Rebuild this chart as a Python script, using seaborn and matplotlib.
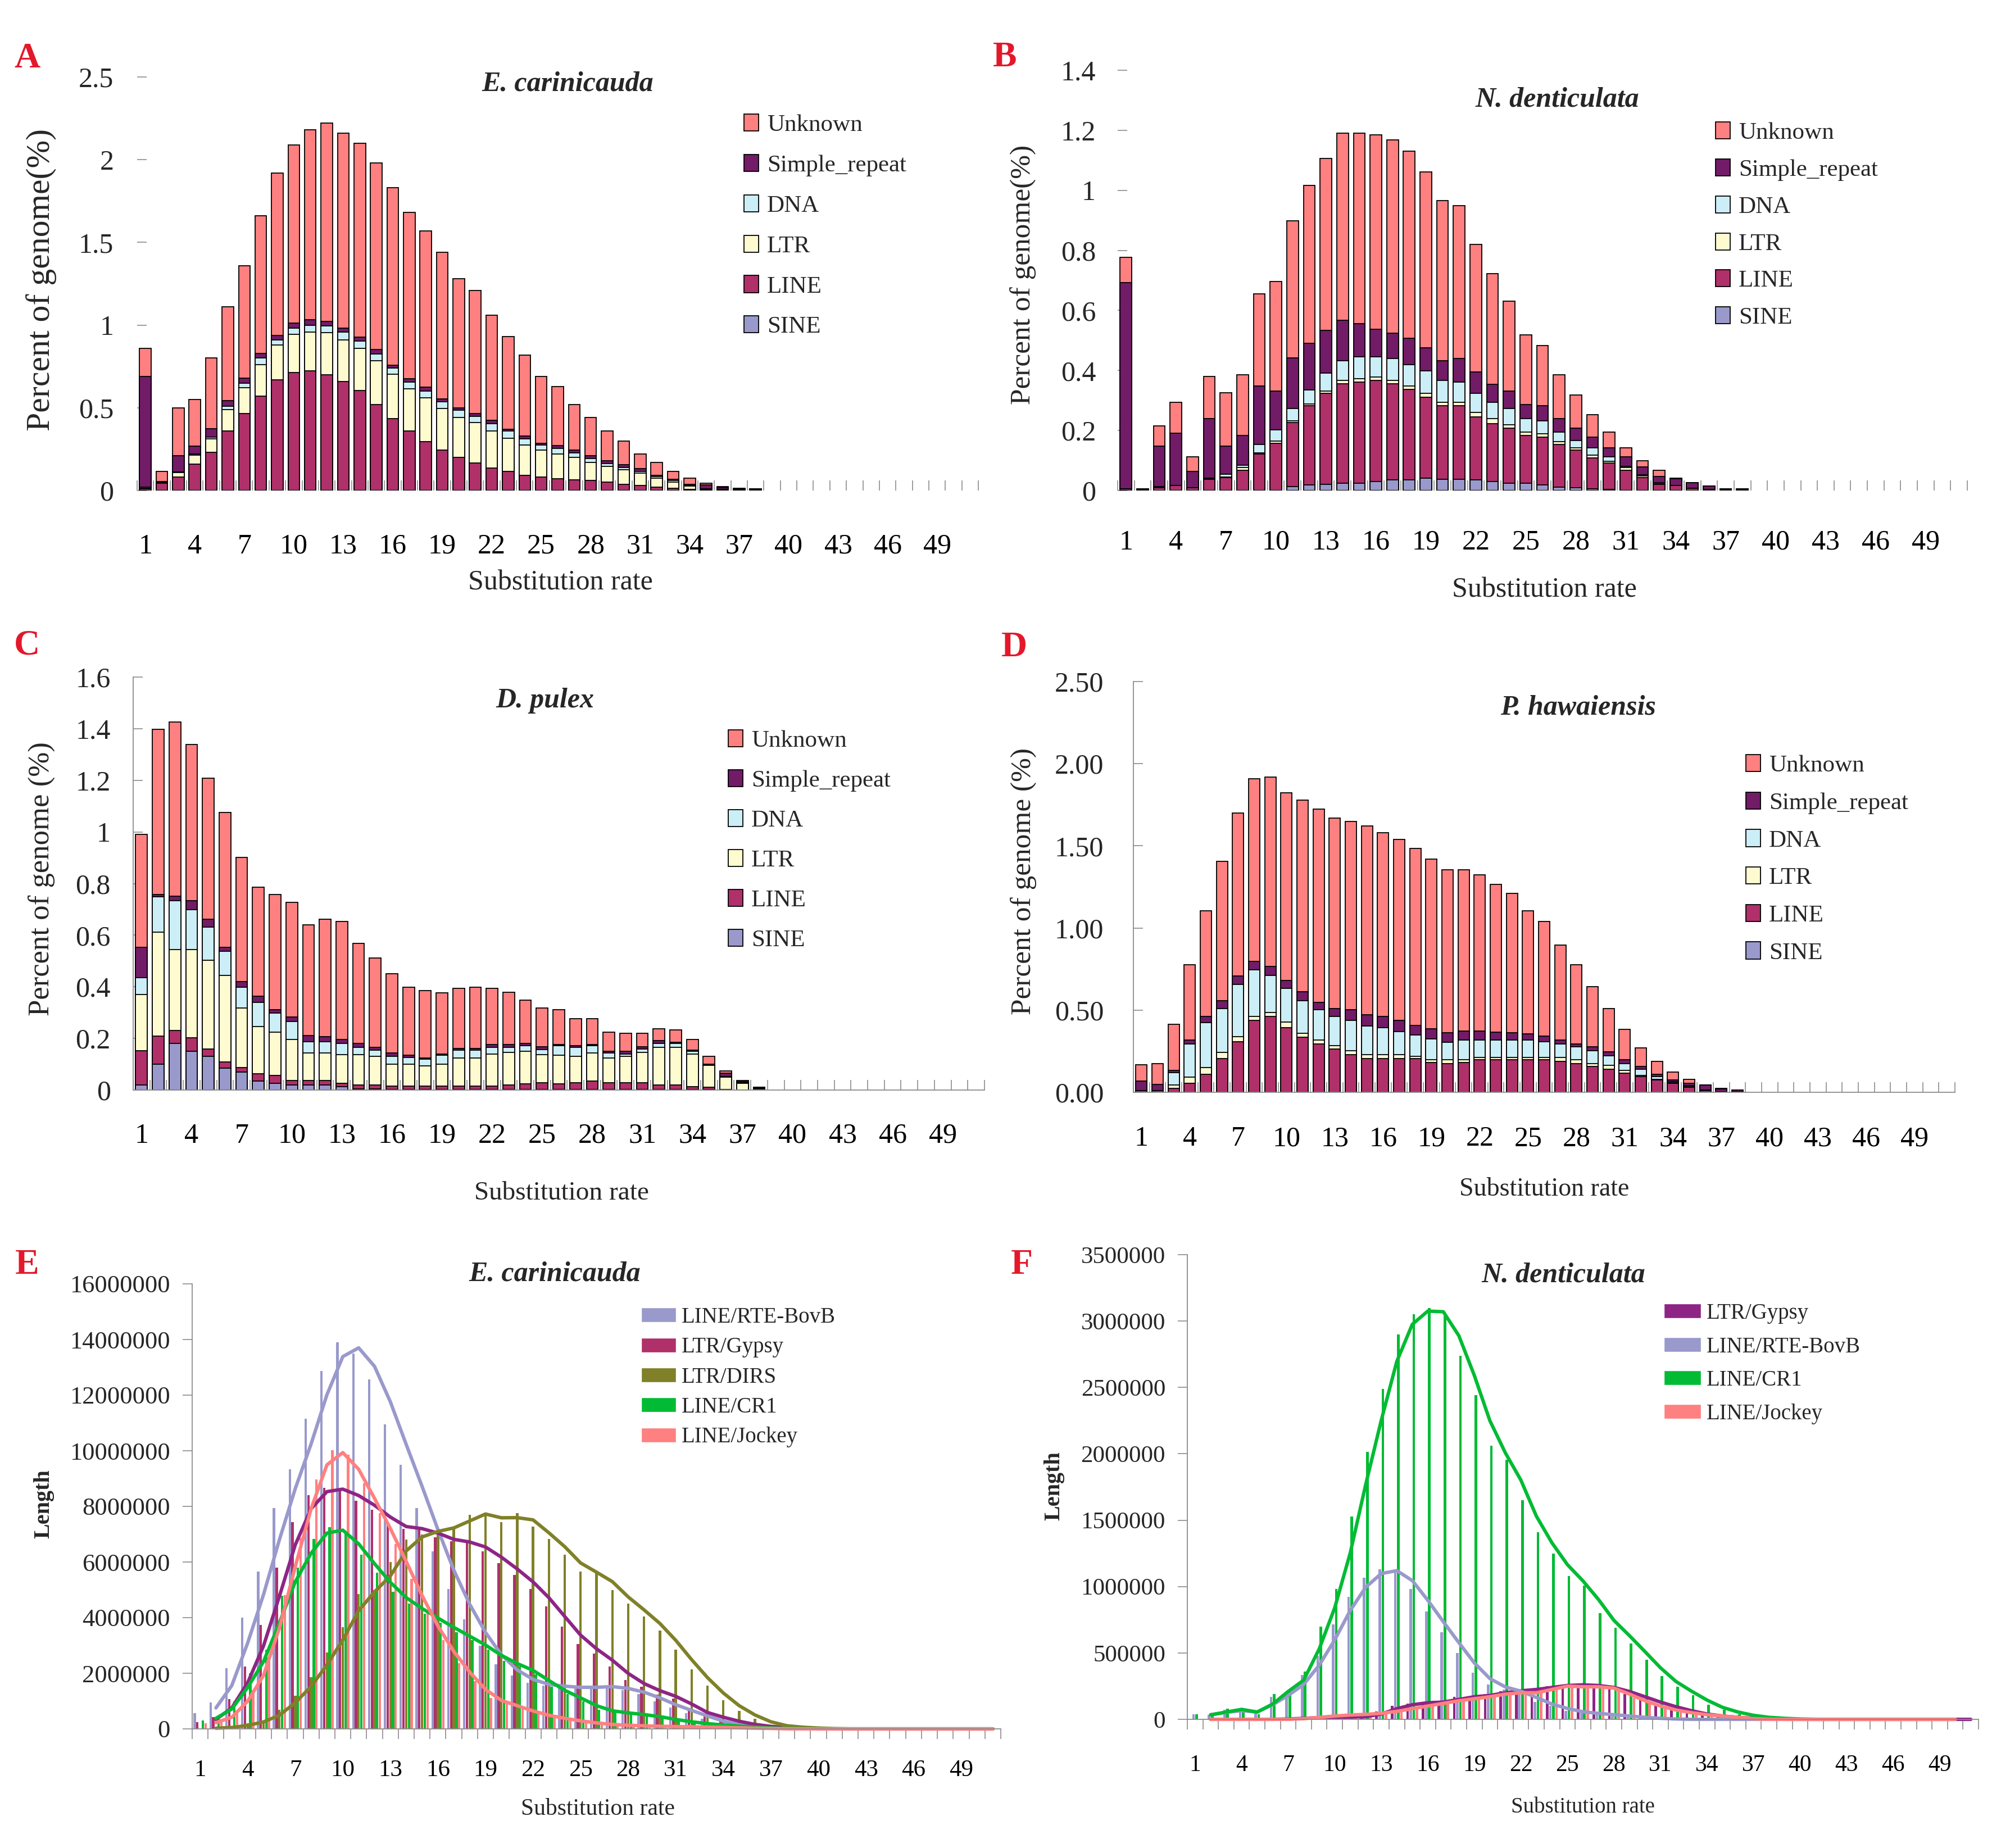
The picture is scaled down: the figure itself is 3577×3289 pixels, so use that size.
import numpy as np
import pandas as pd
import matplotlib.pyplot as plt
import seaborn as sns
from matplotlib.patches import Patch

sns.set_theme(style='white')
plt.rcParams['font.family'] = ['Liberation Serif', 'DejaVu Serif']

W, H = 3577, 3289

rates = [str(i) for i in range(1, 52)]
xtick_labels = ['1', '4', '7', '10', '13', '16', '19', '22', '25', '28', '31', '34', '37', '40', '43', '46', '49']

classes = ['SINE', 'LINE', 'LTR', 'DNA', 'Simple_repeat', 'Unknown']
class_colours = ['#9999CC', '#B0306A', '#FFFBD0', '#CCEEF6', '#721B67', '#FF8080']

# ---- A: E. carinicauda, percent of genome (rates 1-38) ----
a_sine = [0] * 38
a_line = [0.01, 0.043, 0.083, 0.16, 0.23, 0.36, 0.464, 0.571, 0.669, 0.712, 0.724, 0.70, 0.66, 0.605, 0.52, 0.436, 0.36, 0.295, 0.243,
          0.20, 0.167, 0.136, 0.114, 0.093, 0.081, 0.071, 0.064, 0.062, 0.052, 0.038, 0.029, 0.019, 0.014, 0.007, 0.003, 0.002, 0.001, 0.001]
a_ltr = [0.005, 0.003, 0.024, 0.054, 0.084, 0.128, 0.157, 0.189, 0.21, 0.231, 0.233, 0.255, 0.252, 0.255, 0.266, 0.266, 0.254, 0.267, 0.252,
         0.243, 0.245, 0.224, 0.203, 0.183, 0.162, 0.15, 0.136, 0.107, 0.093, 0.086, 0.076, 0.055, 0.036, 0.019, 0.005, 0.004, 0.002, 0.002]
a_dna = [0.005, 0.003, 0.005, 0.007, 0.01, 0.022, 0.027, 0.04, 0.033, 0.038, 0.041, 0.04, 0.045, 0.042, 0.04, 0.038, 0.041, 0.04, 0.043,
         0.043, 0.038, 0.045, 0.043, 0.036, 0.031, 0.034, 0.026, 0.024, 0.019, 0.014, 0.012, 0.012, 0.01, 0.005, 0.002, 0.002, 0.001, 0.001]
a_simple = [0.67, 0.005, 0.098, 0.046, 0.05, 0.033, 0.033, 0.03, 0.024, 0.031, 0.035, 0.026, 0.026, 0.024, 0.026, 0.017, 0.021, 0.024, 0.014,
            0.014, 0.017, 0.019, 0.011, 0.017, 0.012, 0.016, 0.017, 0.017, 0.017, 0.017, 0.014, 0.007, 0.007, 0.007, 0.025, 0.01, 0.006, 0.005]
a_unknown = [0.17, 0.063, 0.29, 0.283, 0.426, 0.567, 0.679, 0.83, 0.984, 1.078, 1.147, 1.199, 1.177, 1.174, 1.128, 1.073, 1.004, 0.944, 0.888,
             0.78, 0.743, 0.636, 0.559, 0.491, 0.404, 0.359, 0.277, 0.23, 0.179, 0.145, 0.089, 0.077, 0.05, 0.038, 0.008, 0.006, 0.002, 0.001]

# ---- B: N. denticulata ----
b_sine = [0, 0, 0, 0, 0, 0, 0, 0, 0, 0, 0.013, 0.018, 0.02, 0.025, 0.025, 0.03, 0.035, 0.035, 0.042,
          0.038, 0.038, 0.036, 0.03, 0.025, 0.025, 0.018, 0.012, 0.01, 0.005, 0.003, 0, 0, 0, 0, 0, 0, 0, 0]
b_line = [0.005, 0.001, 0.01, 0.016, 0.01, 0.037, 0.043, 0.068, 0.122, 0.157, 0.213, 0.264, 0.304, 0.331, 0.336, 0.336, 0.321, 0.302, 0.269,
          0.244, 0.244, 0.209, 0.193, 0.182, 0.159, 0.159, 0.142, 0.124, 0.104, 0.089, 0.068, 0.043, 0.02, 0.016, 0.008, 0.003, 0.001, 0.001]
b_ltr = [0, 0, 0.002, 0, 0, 0.003, 0.002, 0.008, 0.003, 0.007, 0.006, 0.007, 0.007, 0.011, 0.012, 0.012, 0.01, 0.011, 0.013,
         0.011, 0.011, 0.016, 0.016, 0.012, 0.01, 0.012, 0.009, 0.009, 0.009, 0.006, 0.008, 0.005, 0.003, 0, 0, 0, 0, 0]
b_dna = [0, 0, 0.002, 0, 0, 0.002, 0.01, 0.009, 0.029, 0.038, 0.042, 0.046, 0.06, 0.066, 0.072, 0.067, 0.074, 0.072, 0.074,
         0.073, 0.068, 0.063, 0.054, 0.055, 0.045, 0.043, 0.031, 0.024, 0.024, 0.014, 0.005, 0.005, 0.003, 0, 0, 0, 0, 0]
b_simple = [0.688, 0.004, 0.133, 0.174, 0.053, 0.197, 0.092, 0.099, 0.194, 0.129, 0.167, 0.155, 0.143, 0.135, 0.11, 0.093, 0.085, 0.088, 0.078,
            0.067, 0.079, 0.07, 0.061, 0.057, 0.048, 0.05, 0.045, 0.04, 0.035, 0.03, 0.031, 0.026, 0.02, 0.023, 0.018, 0.012, 0.004, 0.004]
b_unknown = [0.084, 0, 0.068, 0.103, 0.049, 0.141, 0.178, 0.201, 0.307, 0.366, 0.457, 0.526, 0.572, 0.622, 0.635, 0.646, 0.642, 0.623, 0.586,
             0.532, 0.508, 0.425, 0.368, 0.299, 0.231, 0.20, 0.146, 0.112, 0.075, 0.052, 0.03, 0.021, 0.021, 0.003, 0, 0, 0, 0]

# ---- C: D. pulex ----
c_sine = [0.02, 0.10, 0.18, 0.151, 0.13, 0.085, 0.069, 0.035, 0.027, 0.02, 0.02, 0.02, 0.012, 0.005, 0.005, 0.003, 0.003, 0.003, 0.003,
          0.003, 0.003, 0.003, 0.003, 0.003, 0.003, 0.003, 0.003, 0.003, 0.003, 0.003, 0.003, 0.003, 0.003, 0.003, 0.002, 0.001, 0, 0]
c_line = [0.133, 0.109, 0.051, 0.052, 0.03, 0.023, 0.018, 0.029, 0.029, 0.017, 0.017, 0.017, 0.015, 0.015, 0.015, 0.012, 0.012, 0.012, 0.012,
          0.012, 0.012, 0.012, 0.017, 0.022, 0.025, 0.022, 0.025, 0.032, 0.025, 0.025, 0.025, 0.017, 0.017, 0.009, 0.008, 0.002, 0.001, 0.001]
c_ltr = [0.216, 0.402, 0.313, 0.341, 0.342, 0.335, 0.231, 0.183, 0.168, 0.158, 0.106, 0.106, 0.11, 0.117, 0.11, 0.085, 0.085, 0.078, 0.085,
         0.109, 0.109, 0.125, 0.125, 0.125, 0.109, 0.109, 0.102, 0.108, 0.096, 0.102, 0.117, 0.146, 0.146, 0.127, 0.085, 0.046, 0.026, 0.004]
c_dna = [0.066, 0.137, 0.189, 0.154, 0.129, 0.094, 0.08, 0.093, 0.074, 0.071, 0.045, 0.045, 0.043, 0.028, 0.024, 0.031, 0.027, 0.026, 0.034,
         0.03, 0.03, 0.025, 0.02, 0.021, 0.02, 0.037, 0.035, 0.028, 0.019, 0.01, 0.015, 0.014, 0.014, 0.011, 0.002, 0.003, 0.001, 0.001]
c_simple = [0.119, 0.009, 0.017, 0.036, 0.03, 0.017, 0.023, 0.023, 0.013, 0.018, 0.023, 0.018, 0.015, 0.015, 0.012, 0.012, 0.007, 0.006, 0.005,
            0.008, 0.008, 0.011, 0.012, 0.009, 0.011, 0.006, 0.006, 0.006, 0.007, 0.01, 0.008, 0.011, 0.005, 0.004, 0.003, 0.014, 0.004, 0.004]
c_unknown = [0.436, 0.64, 0.676, 0.605, 0.547, 0.522, 0.481, 0.423, 0.446, 0.444, 0.429, 0.455, 0.458, 0.388, 0.345, 0.307, 0.264, 0.261, 0.237,
             0.232, 0.236, 0.218, 0.202, 0.168, 0.15, 0.134, 0.105, 0.099, 0.074, 0.07, 0.052, 0.047, 0.047, 0.041, 0.031, 0.007, 0.005, 0]

# ---- D: P. hawaiensis ----
d_sine = [0] * 38
d_line = [0.01, 0.01, 0.024, 0.055, 0.108, 0.204, 0.307, 0.439, 0.461, 0.393, 0.336, 0.295, 0.264, 0.23, 0.204, 0.204, 0.204, 0.204, 0.182,
          0.175, 0.182, 0.199, 0.199, 0.199, 0.199, 0.199, 0.187, 0.175, 0.158, 0.139, 0.115, 0.096, 0.074, 0.055, 0.031, 0.01, 0.005, 0.002]
d_ltr = [0, 0, 0.019, 0.036, 0.043, 0.038, 0.031, 0.024, 0.024, 0.034, 0.024, 0.024, 0.019, 0.022, 0.024, 0.024, 0.024, 0.014, 0.017,
         0.024, 0.017, 0.012, 0.012, 0.012, 0.012, 0.012, 0.024, 0.024, 0.017, 0.024, 0.017, 0.007, 0.006, 0.003, 0.003, 0, 0, 0]
d_dna = [0, 0, 0.077, 0.204, 0.274, 0.269, 0.317, 0.281, 0.225, 0.206, 0.199, 0.185, 0.178, 0.185, 0.177, 0.165, 0.141, 0.132, 0.127,
         0.106, 0.12, 0.108, 0.108, 0.108, 0.108, 0.096, 0.084, 0.077, 0.079, 0.06, 0.043, 0.036, 0.016, 0.007, 0.006, 0.002, 0, 0]
d_simple = [0.057, 0.038, 0.014, 0.024, 0.038, 0.048, 0.053, 0.053, 0.055, 0.046, 0.053, 0.043, 0.05, 0.067, 0.068, 0.07, 0.07, 0.058, 0.06,
            0.057, 0.053, 0.053, 0.048, 0.043, 0.036, 0.036, 0.024, 0.019, 0.022, 0.024, 0.024, 0.017, 0.014, 0.009, 0.015, 0.031, 0.015, 0.013]
d_unknown = [0.099, 0.127, 0.281, 0.456, 0.641, 0.847, 0.993, 1.113, 1.154, 1.144, 1.166, 1.178, 1.159, 1.144, 1.147, 1.118, 1.099, 1.077, 1.034,
             0.994, 0.984, 0.95, 0.90, 0.85, 0.749, 0.696, 0.578, 0.48, 0.367, 0.264, 0.185, 0.115, 0.077, 0.048, 0.024, 0.002, 0.005, 0]

# ---- E: E. carinicauda, length (millions of bp) per rate 1-51 ----
e_names = ['LINE/RTE-BovB', 'LTR/Gypsy', 'LTR/DIRS', 'LINE/CR1', 'LINE/Jockey']
e_bovb = [0.57, 0.94, 2.18, 4.0, 5.66, 7.94, 9.33, 11.16, 12.87, 13.9, 13.5, 12.57, 10.95, 9.5, 7.94, 6.39, 5.03, 3.94, 3.0, 2.33,
          1.91, 1.65, 1.55, 1.52, 1.47, 1.52, 1.52, 1.39, 1.25, 0.98, 0.76, 0.57, 0.36, 0.2, 0.1, 0.05, 0.02, 0.01, 0, 0,
          0, 0, 0, 0, 0, 0, 0, 0, 0, 0, 0]
e_gypsy = [0.25, 0.43, 1.08, 2.24, 3.73, 5.8, 7.43, 8.4, 8.66, 8.58, 8.2, 7.88, 7.35, 7.2, 7.2, 6.88, 6.75, 6.69, 6.39, 5.96,
           5.54, 5.03, 4.40, 3.68, 3.06, 2.70, 2.24, 1.75, 1.51, 1.24, 1.10, 0.69, 0.49, 0.35, 0.2, 0.12, 0.06, 0.03, 0.01, 0,
           0, 0, 0, 0, 0, 0, 0, 0, 0, 0, 0]
e_dirs = [0.0, 0.05, 0.05, 0.2, 0.3, 0.68, 1.2, 1.85, 2.75, 3.65, 4.85, 5.0, 6.0, 6.8, 7.0, 7.2, 7.25, 7.7, 7.75, 7.43,
          7.76, 7.27, 6.83, 6.27, 5.66, 5.61, 4.98, 4.51, 4.05, 3.53, 2.84, 2.14, 1.55, 1.03, 0.64, 0.36, 0.15, 0.08, 0.04, 0.02,
          0, 0, 0, 0, 0, 0, 0, 0, 0, 0, 0]
e_cr1 = [0.31, 0.45, 0.98, 2.0, 2.84, 4.78, 5.8, 6.83, 7.25, 7.04, 6.27, 5.61, 4.93, 4.51, 4.15, 3.82, 3.48, 3.19, 2.84, 2.45,
         2.25, 1.96, 1.52, 1.25, 0.98, 0.69, 0.61, 0.54, 0.49, 0.39, 0.29, 0.22, 0.16, 0.12, 0.08, 0.05, 0.02, 0.01, 0, 0,
         0, 0, 0, 0, 0, 0, 0, 0, 0, 0, 0]
e_jockey = [0.2, 0.25, 0.59, 1.4, 2.45, 4.8, 6.86, 8.97, 10.02, 9.85, 8.82, 7.76, 6.65, 5.39, 4.2, 3.2, 2.37, 1.72, 1.12, 0.93,
            0.74, 0.55, 0.43, 0.33, 0.25, 0.18, 0.14, 0.12, 0.1, 0.09, 0.08, 0.07, 0.06, 0.05, 0.03, 0.02, 0.01, 0, 0, 0,
            0, 0, 0, 0, 0, 0, 0, 0, 0, 0, 0]

# ---- F: N. denticulata, length (millions of bp); only Gypsy has a value at rate 51 ----
f_names = ['LTR/Gypsy', 'LINE/RTE-BovB', 'LINE/CR1', 'LINE/Jockey']
f_gypsy = [0, 0, 0, 0, 0, 0, 0.005, 0.01, 0.015, 0.015, 0.02, 0.02, 0.06, 0.10, 0.12, 0.13, 0.13, 0.17, 0.17, 0.19,
           0.21, 0.22, 0.23, 0.25, 0.26, 0.26, 0.25, 0.23, 0.19, 0.15, 0.11, 0.08, 0.05, 0.03, 0.02, 0.01, 0.005, 0, 0, 0,
           0, 0, 0, 0, 0, 0, 0, 0, 0, 0, 0]
f_bovb = [0.036, 0.035, 0.07, 0.06, 0.05, 0.17, 0.19, 0.336, 0.48, 0.716, 0.924, 1.066, 1.13, 1.11, 0.98, 0.814, 0.656, 0.50, 0.35, 0.264,
          0.224, 0.20, 0.13, 0.10, 0.064, 0.05, 0.04, 0.03, 0.02, 0.01, 0.005, 0, 0, 0, 0, 0, 0, 0, 0, 0,
          0, 0, 0, 0, 0, 0, 0, 0, 0, 0, np.nan]
f_cr1 = [0.036, 0.03, 0.08, 0.07, 0.04, 0.19, 0.23, 0.36, 0.70, 0.98, 1.526, 2.014, 2.49, 2.90, 3.05, 3.10, 3.04, 2.74, 2.44, 2.06,
         1.954, 1.65, 1.41, 1.25, 1.08, 1.006, 0.80, 0.69, 0.57, 0.45, 0.326, 0.244, 0.18, 0.11, 0.07, 0.04, 0.02, 0.01, 0.005, 0,
         0, 0, 0, 0, 0, 0, 0, 0, 0, 0, np.nan]
f_jockey = [0, 0, 0, 0, 0, 0, 0, 0.01, 0.02, 0.03, 0.035, 0.04, 0.05, 0.07, 0.09, 0.11, 0.13, 0.15, 0.16, 0.18,
            0.20, 0.20, 0.20, 0.25, 0.25, 0.24, 0.25, 0.22, 0.16, 0.12, 0.08, 0.06, 0.04, 0.03, 0.02, 0.01, 0, 0, 0, 0,
            0, 0, 0, 0, 0, 0, 0, 0, 0, 0, np.nan]

a_yticks, a_ylabels = [0, 0.5, 1, 1.5, 2, 2.5], ['0', '0.5', '1', '1.5', '2', '2.5']
b_yticks, b_ylabels = [0, 0.2, 0.4, 0.6, 0.8, 1.0, 1.2, 1.4], ['0', '0.2', '0.4', '0.6', '0.8', '1', '1.2', '1.4']
c_yticks, c_ylabels = [0, 0.2, 0.4, 0.6, 0.8, 1.0, 1.2, 1.4, 1.6], ['0', '0.2', '0.4', '0.6', '0.8', '1', '1.2', '1.4', '1.6']
d_yticks, d_ylabels = [0, 0.5, 1.0, 1.5, 2.0, 2.5], ['0.00', '0.50', '1.00', '1.50', '2.00', '2.50']
e_yticks = [0, 2000000, 4000000, 6000000, 8000000, 10000000, 12000000, 14000000, 16000000]
f_yticks = [0, 500000, 1000000, 1500000, 2000000, 2500000, 3000000, 3500000]

red = '#E3182B'
grey = '#8c8c8c'

fig = plt.figure(figsize=(W / 100, H / 100), dpi=100)


def new_axes(l, t, r, b):
    return fig.add_axes([l / W, 1 - b / H, (r - l) / W, (b - t) / H])


def put(x, y, s, **kw):
    fig.text(x / W, 1 - y / H, s, ha='center', va='center', **kw)


def stacked(ax, layers):
    n = len(layers[0])
    cum = np.cumsum(np.array(layers, dtype=float), axis=0)
    # tallest first, then each lower cumulative layer drawn over it
    for i in range(len(layers) - 1, -1, -1):
        sns.barplot(x=rates[:n], y=cum[i], order=rates, color=class_colours[i], width=0.7,
                    saturation=1, edgecolor='black', linewidth=1.3, errorbar=None, ax=ax)
    for p in ax.patches:
        if p.get_height() <= 0:
            p.set_linewidth(0)


def clustered(ax, names, series, bar_cols, line_cols, width, gap):
    df = pd.DataFrame({'rate': np.tile(rates, len(names)),
                       'family': np.repeat(names, len(rates)),
                       'length': np.concatenate(series) * 1e6})
    df['length'] = df['length'].fillna(0)
    sns.barplot(data=df, x='rate', y='length', hue='family', order=rates, hue_order=names,
                palette=dict(zip(names, bar_cols)), width=width, gap=gap, saturation=1,
                linewidth=0, errorbar=None, legend=False, ax=ax)
    # two-period moving average trend lines
    for s, c in zip(series, line_cols):
        trend = pd.DataFrame({'pos': np.arange(len(rates)),
                              'ma': pd.Series(s, dtype=float).rolling(2).mean() * 1e6}).dropna()
        sns.lineplot(data=trend, x='pos', y='ma', color=c, linewidth=4.4, clip_on=False, ax=ax)


def style(ax, yticks, ylabels, boxed, xdir, ydir, xpad, ypad, xsize, ysize):
    ax.set_xlim(-0.5, 50.5)
    ax.set_ylim(yticks[0], yticks[-1])
    ax.set_yticks(yticks)
    ax.set_yticklabels(ylabels)
    ax.set_xticks([rates.index(t) for t in xtick_labels])
    ax.set_xticklabels(xtick_labels)
    ax.set_xticks(np.arange(-0.5, 51, 1), minor=True)
    ax.set_xlabel('')
    ax.set_ylabel('')
    ax.set_axisbelow(True)
    for side in ['top', 'right']:
        ax.spines[side].set_visible(False)
    for side in ['left', 'bottom']:
        ax.spines[side].set_visible(boxed)
        ax.spines[side].set_color(grey)
        ax.spines[side].set_linewidth(1.3)
    ax.tick_params(axis='x', which='major', length=0, pad=xpad, labelsize=xsize, colors='black')
    ax.tick_params(axis='x', which='minor', length=13, width=1.2, color=grey, direction=xdir, bottom=True)
    ax.tick_params(axis='y', length=12, width=1.2, color=grey, direction=ydir, pad=ypad,
                   labelsize=ysize, left=True)


def legend(handles, labels, x, y, size, spacing, hl, hh, tpad):
    fig.legend(handles, labels, loc='upper left', bbox_to_anchor=(x / W, 1 - y / H),
               bbox_transform=fig.transFigure, frameon=False, fontsize=size,
               labelspacing=spacing, handlelength=hl, handleheight=hh,
               handletextpad=tpad, borderpad=0, borderaxespad=0)


class_handles = [Patch(facecolor=class_colours[i], edgecolor='black', linewidth=1.3) for i in range(5, -1, -1)]
class_labels = [classes[i] for i in range(5, -1, -1)]

# A
ax = new_axes(244, 137, 1741, 873)
stacked(ax, [a_sine, a_line, a_ltr, a_dna, a_simple, a_unknown])
style(ax, a_yticks, a_ylabels, False, 'in', 'in', 55, 30, 36, 36)
put(1010, 149, 'E. carinicauda', fontsize=36, fontweight='bold', fontstyle='italic')
put(74, 498, 'Percent of genome(%)', fontsize=43, rotation=90)
put(997, 1037, 'Substitution rate', fontsize=36)
put(48, 105, 'A', fontsize=46, fontweight='bold', color=red)
legend(class_handles, class_labels, 1324, 203, 31, 0.76, 0.6, 0.7, 0.35)

# B
ax = new_axes(1989, 125, 3501, 873)
stacked(ax, [b_sine, b_line, b_ltr, b_dna, b_simple, b_unknown])
style(ax, b_yticks, b_ylabels, False, 'in', 'in', 50, 28, 36, 36)
put(2771, 177, 'N. denticulata', fontsize=36, fontweight='bold', fontstyle='italic')
put(1821, 489, 'Percent of genome(%)', fontsize=37, rotation=90)
put(2748, 1050, 'Substitution rate', fontsize=36)
put(1788, 103, 'B', fontsize=46, fontweight='bold', color=red)
legend(class_handles, class_labels, 3053, 217, 31, 0.62, 0.6, 0.7, 0.35)

# C
ax = new_axes(237, 1205, 1752, 1940)
stacked(ax, [c_sine, c_line, c_ltr, c_dna, c_simple, c_unknown])
style(ax, c_yticks, c_ylabels, True, 'in', 'in', 42, 29, 36, 36)
put(970, 1247, 'D. pulex', fontsize=36, fontweight='bold', fontstyle='italic')
put(74, 1564, 'Percent of genome (%)', fontsize=38, rotation=90)
put(999, 2124, 'Substitution rate', fontsize=34)
put(48, 1150, 'C', fontsize=46, fontweight='bold', color=red)
legend(class_handles, class_labels, 1296, 1299, 31, 0.74, 0.6, 0.7, 0.35)

# D
ax = new_axes(2017, 1213, 3479, 1944)
stacked(ax, [d_sine, d_line, d_ltr, d_dna, d_simple, d_unknown])
style(ax, d_yticks, d_ylabels, True, 'in', 'in', 43, 38, 36, 36)
put(2808, 1260, 'P. hawaiensis', fontsize=36, fontweight='bold', fontstyle='italic')
put(1822, 1568, 'Percent of genome (%)', fontsize=37, rotation=90)
put(2748, 2117, 'Substitution rate', fontsize=33)
put(1805, 1153, 'D', fontsize=46, fontweight='bold', color=red)
legend(class_handles, class_labels, 3107, 1343, 31, 0.64, 0.6, 0.7, 0.35)

# E
e_bar_cols = ['#9999CC', '#B0306A', '#808028', '#00BB33', '#FF8080']
e_line_cols = ['#9999CC', '#8E2585', '#808028', '#00BB33', '#FF8080']
ax = new_axes(342, 2285, 1781, 3077)
clustered(ax, e_names, [e_bovb, e_gypsy, e_dirs, e_cr1, e_jockey], e_bar_cols, e_line_cols, 0.85, 0.1)
style(ax, e_yticks, [str(v) for v in e_yticks], True, 'out', 'out', 39, 16, 31, 32)
put(987, 2268, 'E. carinicauda', fontsize=36, fontweight='bold', fontstyle='italic')
put(78, 2677, 'Length', fontsize=29, fontweight='bold', rotation=90)
put(1064, 3220, 'Substitution rate', fontsize=30)
put(48, 2252, 'E', fontsize=46, fontweight='bold', color=red)
legend([Patch(facecolor=c) for c in e_bar_cols], e_names, 1141, 2326, 28, 0.42, 1.6, 0.65, 0.26)

# F
f_cols = ['#8E2585', '#9999CC', '#00BB33', '#FF8080']
ax = new_axes(2113, 2233, 3521, 3060)
clustered(ax, f_names, [f_gypsy, f_bovb, f_cr1, f_jockey], f_cols, f_cols, 0.8, 0.15)
style(ax, f_yticks, [str(v) for v in f_yticks], True, 'out', 'out', 45, 16, 30, 31)
put(2782, 2270, 'N. denticulata', fontsize=36, fontweight='bold', fontstyle='italic')
put(1876, 2645, 'Length', fontsize=29, fontweight='bold', rotation=90)
put(2817, 3216, 'Substitution rate', fontsize=28)
put(1818, 2252, 'F', fontsize=46, fontweight='bold', color=red)
legend([Patch(facecolor=c) for c in f_cols], f_names, 2961, 2319, 28, 0.58, 1.7, 0.65, 0.26)

fig.savefig('out.png', dpi=100)
